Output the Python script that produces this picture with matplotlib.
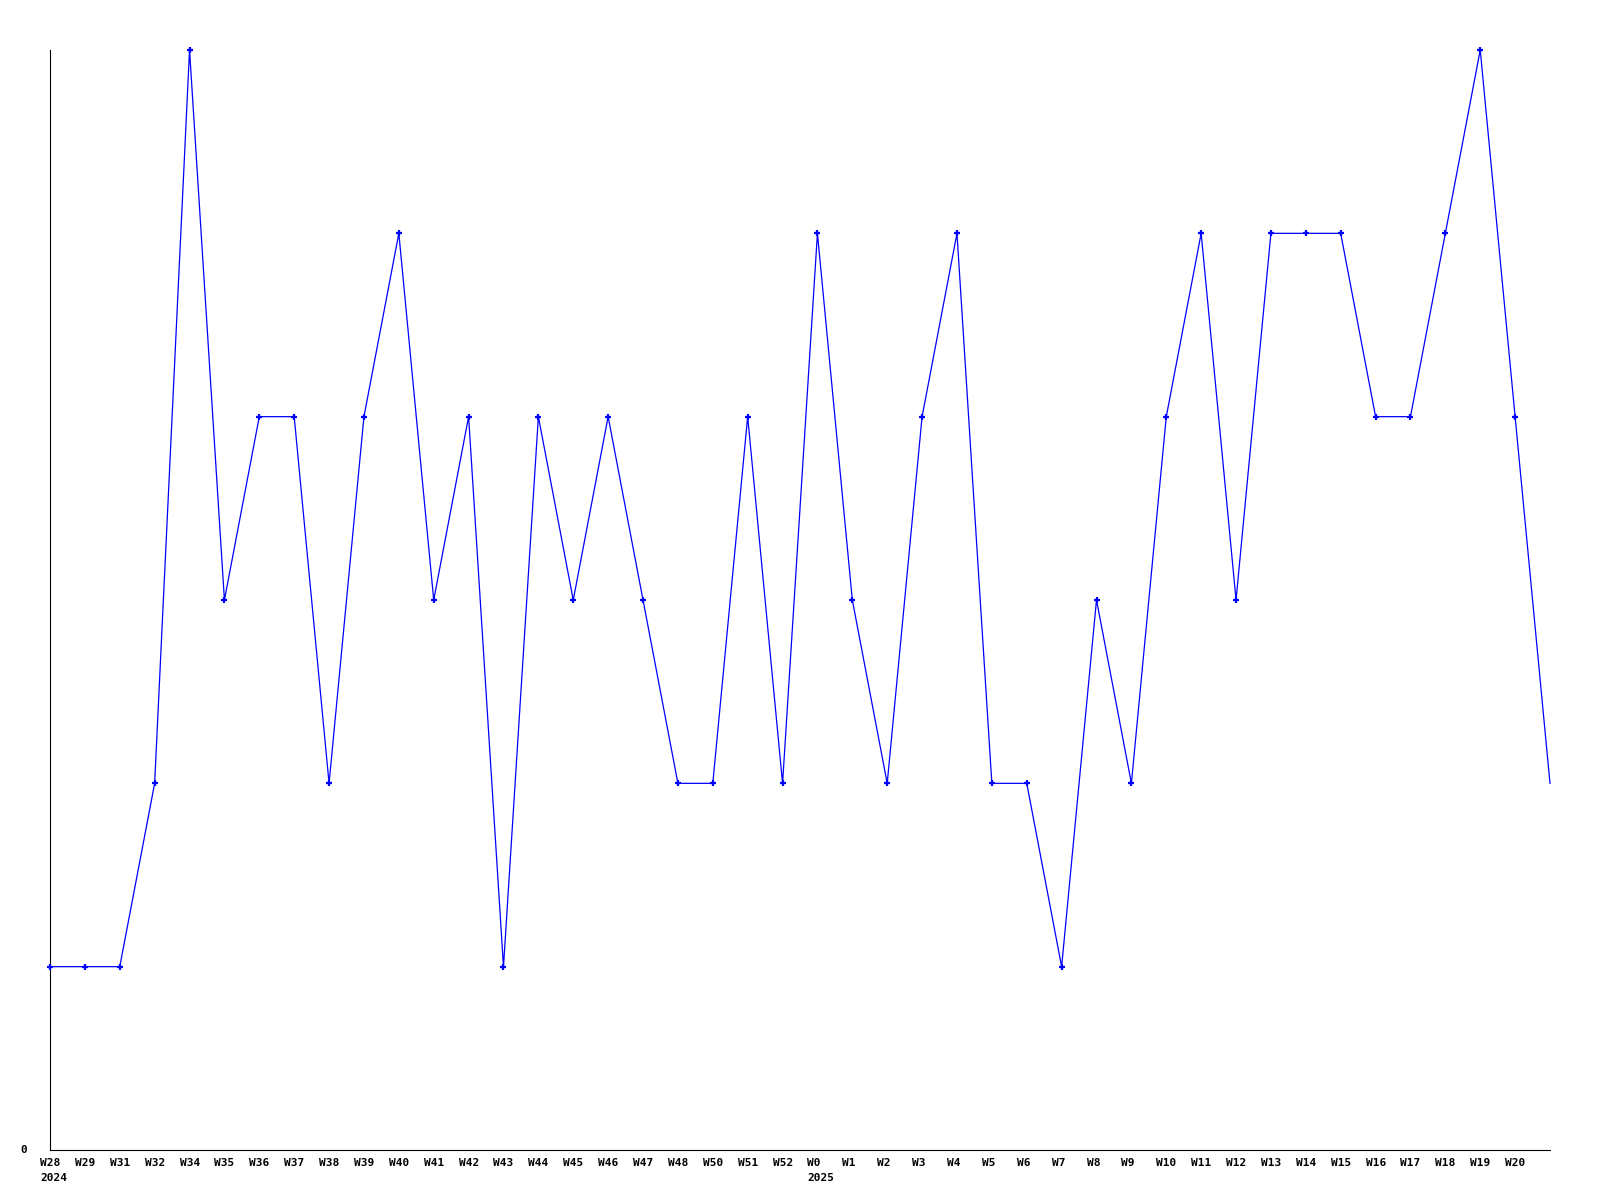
#!/usr/bin/env python3

"""Weekly count line chart, W28 2024 to W21 2025."""

import matplotlib

matplotlib.use("Agg")
import matplotlib.pyplot as plt
from matplotlib.transforms import ScaledTranslation

week_labels = [
    "W28", "W29", "W31", "W32", "W34", "W35", "W36", "W37", "W38", "W39",
    "W40", "W41", "W42", "W43", "W44", "W45", "W46", "W47", "W48", "W50",
    "W51", "W52", "W0", "W1", "W2", "W3", "W4", "W5", "W6", "W7",
    "W8", "W9", "W10", "W11", "W12", "W13", "W14", "W15", "W16", "W17",
    "W18", "W19", "W20",
]
# one more value than labels: the last point sits at the right edge, unlabelled
counts = [
    1, 1, 1, 2, 6, 3, 4, 4, 2, 4,
    5, 3, 4, 1, 4, 3, 4, 3, 2, 2,
    4, 2, 5, 3, 2, 4, 5, 2, 2, 1,
    3, 2, 4, 5, 3, 5, 5, 5, 4, 4,
    5, 6, 4, 2,
]
year_labels = {0: "2024", 22: "2025"}
y_labels = {0: "0"}

LINE_COLOR = "#0000ff"
FONT = dict(family="DejaVu Sans Mono", weight="bold", size=8, color="black")

fig = plt.figure(figsize=(16, 12), dpi=100)
ax = fig.add_axes([50 / 1600, 50 / 1200, 1500 / 1600, 1100 / 1200])

xs = list(range(len(counts)))
ax.plot(xs, counts, color=LINE_COLOR, lw=0.9, clip_on=False)
ax.plot(xs[:-1], counts[:-1], ls="none", marker="+", ms=4.5, mew=1.6,
        color=LINE_COLOR, clip_on=False, zorder=5)

ax.set_xlim(0, len(counts) - 1)
ax.set_ylim(0, 6)
ax.set_xticks([])
ax.set_yticks([])
for side in ("top", "right"):
    ax.spines[side].set_visible(False)
for side in ("left", "bottom"):
    ax.spines[side].set_linewidth(0.8)
    ax.spines[side].set_color("black")


def px(dx, dy):
    # pixel offset (dpi is 100)
    return ScaledTranslation(dx / 100, dy / 100, fig.dpi_scale_trans)


xaxis = ax.get_xaxis_transform()
for i, label in enumerate(week_labels):
    ax.text(i, 0, label, transform=xaxis + px(-10, -8), ha="left", va="top", **FONT)
for i, label in year_labels.items():
    ax.text(i, 0, label, transform=xaxis + px(-10, -23), ha="left", va="top", **FONT)

yaxis = ax.get_yaxis_transform()
for v, label in y_labels.items():
    ax.text(0, v, label, transform=yaxis + px(-30, 0), ha="left", va="center", **FONT)

fig.savefig("out.png", dpi=100, facecolor="white")
